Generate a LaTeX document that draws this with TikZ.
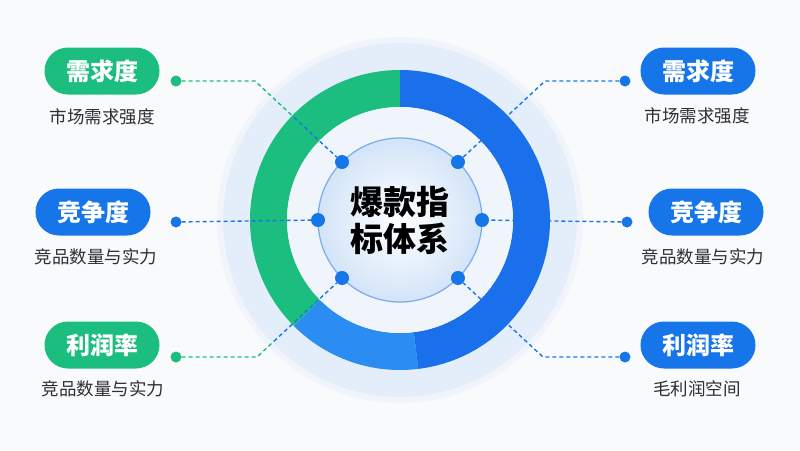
\documentclass[tikz,border=0pt]{standalone}
\usepackage{fontspec}
\setmainfont{Noto Sans CJK SC}
\usetikzlibrary{calc}
\definecolor{bgc}{HTML}{F9FAFC}
\definecolor{cgreen}{HTML}{1CBE7F}
\definecolor{cblue}{HTML}{1676E9}
\definecolor{rdark}{HTML}{1A6FEA}
\definecolor{rlight}{HTML}{2B8DF1}
\definecolor{pale}{HTML}{E4EEFA}
\definecolor{band}{HTML}{F0F5FC}
\definecolor{innerc}{HTML}{D3E4F8}
\definecolor{rimc}{HTML}{7AAAEE}
\definecolor{subc}{HTML}{2E2E33}
\tikzset{
  pill/.style={rounded corners=23.5pt, minimum width=115pt, minimum height=47pt,
    inner sep=0pt, text=white, font=\bfseries\fontsize{24}{24}\selectfont},
  subtext/.style={inner sep=0pt, text=subc, font=\fontsize{17.5}{18}\selectfont},
  odot/.style={circle, minimum size=11pt, inner sep=0pt},
  idot/.style={circle, minimum size=14pt, inner sep=0pt, fill=cblue},
  dashline/.style={line width=1.4pt, dash pattern=on 4pt off 3pt},
}
\begin{document}
\begin{tikzpicture}[x=1pt,y=-1pt]
\fill[bgc] (0,0) rectangle (800,450);
\useasboundingbox (0,0) rectangle (800,450);
% ring system
\begin{scope}[shift={(400,220)}, y=1pt]
  \fill[pale, opacity=0.35] (0,0) circle[radius=183];
  \fill[pale] (0,0) circle[radius=177];
  \fill[cgreen] (90:150) arc[start angle=90,end angle=225,radius=150] -- (225:113) arc[start angle=225,end angle=90,radius=113] -- cycle;
  \fill[rlight] (225:150) arc[start angle=225,end angle=277,radius=150] -- (277:113) arc[start angle=277,end angle=225,radius=113] -- cycle;
  \fill[rdark] (277:150) arc[start angle=277,end angle=450,radius=150] -- (90:113) arc[start angle=90,end angle=-83,radius=113] -- cycle;
  \fill[band] (0,0) circle[radius=113];
  \shade[inner color=white, outer color=innerc] (0,0) circle[radius=82];
  \draw[rimc, line width=1.2pt] (0,0) circle[radius=82];
  \node[idot] (i1) at (135:82) {};
  \node[idot] (i2) at (180:82) {};
  \node[idot] (i3) at (225:82) {};
  \node[idot] (j1) at (45:82) {};
  \node[idot] (j2) at (0:82) {};
  \node[idot] (j3) at (-45:82) {};
  \node[font=\bfseries\fontsize{33}{37}\selectfont, align=center, text=black, inner sep=0pt] (title) at (0,0) {爆款指\\标体系};
\end{scope}
% labels left
\node[pill, fill=cgreen] (p1) at (102,71) {需求度};
\node[subtext] (s1) at (102,117) {市场需求强度};
\node[pill, fill=cblue] (p2) at (93,212) {竞争度};
\node[subtext] (s2) at (96,257) {竞品数量与实力};
\node[pill, fill=cgreen] (p3) at (102,345) {利润率};
\node[subtext] (s3) at (103,389) {竞品数量与实力};
% labels right
\node[pill, fill=cblue] (q1) at (698,71) {需求度};
\node[subtext] (t1) at (697,116) {市场需求强度};
\node[pill, fill=cblue] (q2) at (706,212) {竞争度};
\node[subtext] (t2) at (703,257) {竞品数量与实力};
\node[pill, fill=cblue] (q3) at (698,345) {利润率};
\node[subtext] (t3) at (697,389) {毛利润空间};
% outer dots
\node[odot, fill=cgreen] (o1) at (176,81) {};
\node[odot, fill=cblue] (o2) at (176,222) {};
\node[odot, fill=cgreen] (o3) at (176,357) {};
\node[odot, fill=cblue] (r1) at (625,81) {};
\node[odot, fill=cblue] (r2) at (627,222) {};
\node[odot, fill=cblue] (r3) at (625,357) {};
% corners
\coordinate (c1) at (255,81);
\coordinate (c3) at (257,357);
\coordinate (d1) at (545,81);
\coordinate (d3) at (543,357);
% connectors
\draw[dashline, cgreen] (o1) -- (c1) -- ($(c1)!0.45!(i1)$);
\draw[dashline, cblue] ($(c1)!0.45!(i1)$) -- (i1);
\draw[dashline, cblue] (o2) -- (i2);
\draw[dashline, cgreen] (o3) -- (c3) -- ($(c3)!0.2!(i3)$);
\draw[dashline, cblue] ($(c3)!0.2!(i3)$) -- (i3);
\draw[dashline, cblue] (r1) -- (d1) -- (j1);
\draw[dashline, cblue] (r2) -- (j2);
\draw[dashline, cblue] (r3) -- (d3) -- (j3);
\end{tikzpicture}
\end{document}
